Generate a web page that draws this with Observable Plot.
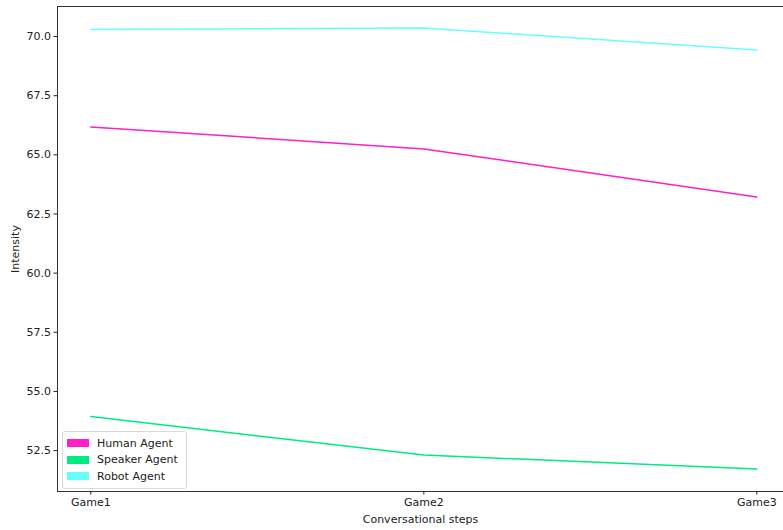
<!DOCTYPE html>
<html>
<head>
<meta charset="utf-8">
<script src="https://cdn.jsdelivr.net/npm/d3@7"></script>
<script src="https://cdn.jsdelivr.net/npm/@observablehq/plot@0.6"></script>
<style>
  html, body { margin: 0; padding: 0; background: white; overflow: hidden; }
  #wrap { position: relative; width: 783px; height: 530px; }
  #legend {
    position: absolute; left: 62px; top: 431px;
    border: 1px solid #d9d9d9; border-radius: 3px; background: rgba(255,255,255,0.8);
    padding: 3px 8px 3px 4px; font-family: "DejaVu Sans", sans-serif; font-size: 11px; color: #222;
  }
  #legend .row { display: flex; align-items: center; height: 16.5px; }
  #legend .sw { width: 22px; height: 8px; margin-right: 8px; }
</style>
</head>
<body>
<div id="wrap"></div>
<script>
const steps = ["Game1", "Game2", "Game3"];
const seriesNames = ["Human Agent", "Speaker Agent", "Robot Agent"];
const colors = ["#ff1ec8", "#00ea84", "#66fffa"];
const human = [66.18, 65.25, 63.22];
const speaker = [53.94, 52.31, 51.72];
const robot = [70.30, 70.36, 69.43];
const yTicks = [52.5, 55.0, 57.5, 60.0, 62.5, 65.0, 67.5, 70.0];

const seriesValues = [human, speaker, robot];
const data = [];
seriesNames.forEach((s, si) => {
  steps.forEach((st, i) => data.push({series: s, i, step: st, value: seriesValues[si][i]}));
});

const chart = Plot.plot({
  width: 783,
  height: 530,
  marginLeft: 57,
  marginRight: 0,
  marginTop: 6,
  marginBottom: 39,
  style: {fontFamily: "DejaVu Sans, sans-serif", fontSize: "11px", color: "#222", background: "white", overflow: "hidden"},
  x: {domain: [-0.1, 2.08], ticks: [0, 1, 2], tickFormat: i => steps[i], tickSize: 3.5, tickPadding: 3, label: "Conversational steps", labelArrow: false, labelAnchor: "center", labelOffset: 31},
  y: {domain: [50.77, 71.27], ticks: yTicks, tickFormat: d => d.toFixed(1), tickSize: 3.5, tickPadding: 3, label: "Intensity", labelArrow: false, labelAnchor: "center", labelOffset: 46},
  color: {domain: seriesNames, range: colors},
  marks: [
    Plot.line(data, {x: "i", y: "value", z: "series", stroke: "series", strokeWidth: 1.5}),
    Plot.ruleX([-0.1], {stroke: "#333", strokeWidth: 1}),
    Plot.ruleY([50.77], {stroke: "#333", strokeWidth: 1}),
    Plot.ruleY([71.27], {stroke: "#333", strokeWidth: 1}),
  ]
});
const wrap = document.getElementById("wrap");
wrap.appendChild(chart);

const legend = document.createElement("div");
legend.id = "legend";
seriesNames.forEach((s, i) => {
  const row = document.createElement("div");
  row.className = "row";
  const sw = document.createElement("div");
  sw.className = "sw";
  sw.style.background = colors[i];
  const t = document.createElement("span");
  t.textContent = s;
  row.appendChild(sw);
  row.appendChild(t);
  legend.appendChild(row);
});
wrap.appendChild(legend);
</script>
</body>
</html>
